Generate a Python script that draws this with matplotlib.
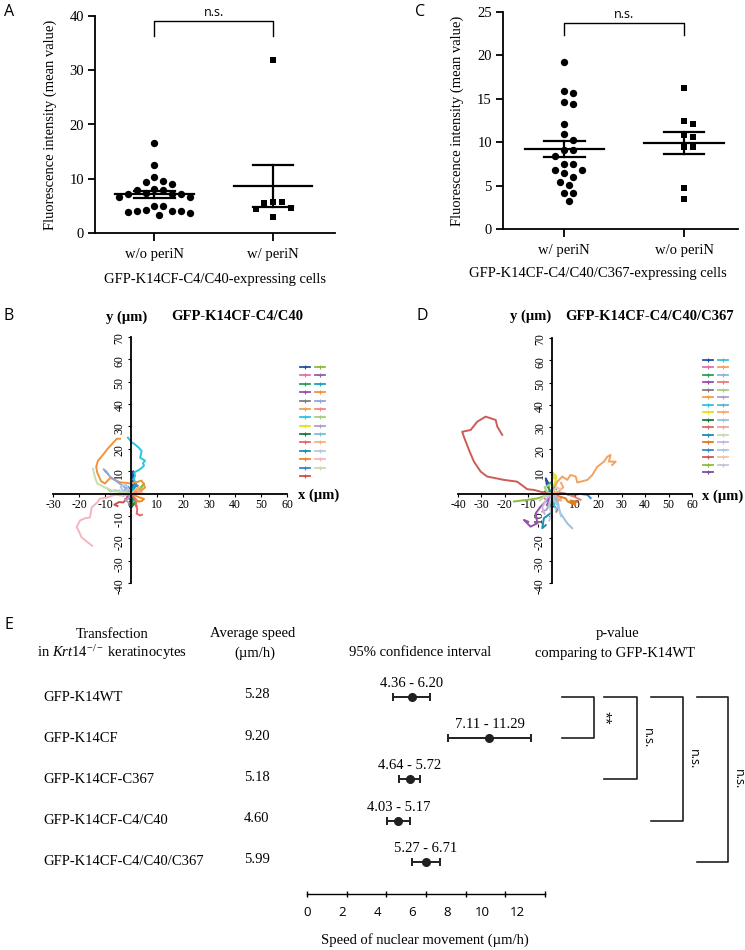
import numpy as np
import matplotlib
matplotlib.use("Agg")
import matplotlib.pyplot as plt
import matplotlib.transforms as mtransforms
from matplotlib.lines import Line2D

W, H = 745, 950
plt.rcParams['font.family'] = 'Liberation Serif'
plt.rcParams['mathtext.fontset'] = 'custom'
plt.rcParams['mathtext.rm'] = 'Liberation Serif'
plt.rcParams['mathtext.it'] = 'Liberation Serif:italic'
plt.rcParams['axes.unicode_minus'] = False
SANS = 'Open Sans'

################################ Data #########################################

# A : intensity, GFP-K14CF-C4/C40 cells
A_groups = ['w/o periN', 'w/ periN']
A_wo = [16.6, 12.6, 10.4, 9.6, 9.1, 9.4, 7.9, 7.2, 7.4, 6.7, 7.2, 6.7, 7.2, 8.0,
        8.1, 5.0, 4.3, 4.0, 3.8, 3.4, 3.6, 4.0, 4.0, 4.9]
A_w = [31.8, 4.6, 5.8, 5.8, 5.5, 4.4, 2.9]

# C : intensity, GFP-K14CF-C4/C40/C367 cells
C_groups = ['w/ periN', 'w/o periN']
C_w = [19.25, 15.7, 15.9, 14.4, 14.6, 12.1, 10.2, 10.9, 9.1, 9.1, 8.4, 7.5, 7.5,
       6.8, 6.8, 6.4, 6.0, 5.4, 5.1, 4.1, 4.1, 3.2]
C_wo = [16.2, 12.5, 12.1, 10.8, 10.6, 9.5, 9.5, 4.7, 3.5]

# B : nuclear tracks GFP-K14CF-C4/C40 (um)
B_colors = ['#2b4ea2', '#e86fae', '#2ca05a', '#9a4fb0', '#7f7f7f', '#f5a04a', '#2cc4e0',
            '#e5e020', '#1f7a3a', '#e8676b', '#1b8fb0', '#f28a1e', '#3a86c8', '#c9524a',
            '#8dbb3e', '#8e63a8', '#1ea3b8', '#f0943c', '#8fa8dc', '#ee8a8a', '#a5cf86',
            '#b09fcc', '#7fbcd8', '#f7b27f', '#b8c8e0', '#f4b6be', '#c6ddb0']
B_tx = [[0, 0.6, 0.3, 1.0, 0.4, 0.9, 0.5],
        [0, -0.8, -1.8, -1.2, -2.2],
        [0, 0.8, 1.8, 1.4, 2.2],
        [0, -0.9, -1.6, -0.8, -1.4],
        [0, 0.9, 0.4, 1.4, 0.8],
        [0, 1.6, 2.8, 3.9, 3.2],
        [0, 1.2, 1.9, 1.0, 1.6, 1.2, 2.7, 4.2, 5.0, 4.6, 5.4, 4.3, 3.5, 4.1, 3.0, 1.5, 0.2, -1.2],
        [0, 0.6, 1.2, 0.8],
        [0, 0.5, 0.2, 1.0],
        [0, 1.0, 2.2, 1.8, 2.4, 2.2, 3.5, 4.2],
        [0, 1.0, 1.5, 2.6, 1.4, 0.9, 1.8],
        [0, 1.8, 3.4, 5.0, 4.2, 3.0, 2.0],
        [0, -1.0, -2.1, -1.2, 0.2],
        [0, -1.4, -3.0, -4.6, -6.4, -5.2],
        [0, 1.8, 3.8, 5.0, 4.2],
        [0, -0.5, -1.1, -0.4],
        [0, 0.5, 1.1, 2.0, 2.6],
        [0, 3.0, 5.4, 4.8, 4.0, 2.0, -0.4, -2.0, -4.2, -6.0, -8.0, -10.0, -11.5, -13.0,
         -13.4, -12.7, -11.0, -9.0, -7.0, -5.5, -4.2],
        [0, -2.3, -5.0, -8.0, -10.0, -9.0, -10.5],
        [0, 2.0, 3.0, 4.0],
        [0, -2.0, -4.0, -6.0, -8.0, -9.0],
        [0, -1.0, -2.0, -1.0],
        [0, -2.0, -3.0, -2.0, -3.0],
        [0, 2.0, 3.0, 2.5, 4.0],
        [0, -3.0, -4.0, -2.0, -1.0, -3.0, -4.5],
        [0, -3.0, -6.0, -9.4, -12.0, -13.0, -15.1, -15.8, -17.5, -19.6, -20.9, -20.0, -19.0,
         -17.0, -15.0],
        [0, -3.0, -6.5, -10.0, -13.0, -13.8, -14.6]]
B_ty = [[0, 2.5, 4.5, 6.5, 8.5, 10, 7],
        [0, -0.8, -0.3, -1.8, -2.4],
        [0, -1.5, -3.0, -4.5, -5.6],
        [0, 0.8, 0.2, -0.9, -1.6],
        [0, -0.8, -1.9, -2.4, -3.2],
        [0, 0.9, 1.8, 1.0, 0.2],
        [0, 2.0, 4.5, 6.5, 8.0, 9.4, 10.3, 11.5, 12.5, 13.5, 14.7, 15.5, 16.0, 19.0, 20.5, 22.0, 23.0, 25.0],
        [0, 0.5, 0.2, -0.4],
        [0, -2.0, -4.0, -5.0],
        [0, -1.5, -3.0, -5.0, -7.0, -9.0, -9.8, -9.5],
        [0, 2.0, 4.0, 3.5, 3.0, 5.0, 4.2],
        [0, -1.0, -1.8, -2.4, -3.3, -3.6, -3.0],
        [0, 1.0, 2.0, 3.1, 1.5],
        [0, -2.0, -4.0, -3.8, -5.0, -5.6],
        [0, 1.0, 2.5, 4.5, 3.2],
        [0, -1.0, -2.0, -2.6],
        [0, 1.0, 3.0, 4.0, 3.1],
        [0, 0.5, 2.7, 4.5, 5.8, 5.0, 4.5, 4.8, 5.0, 6.0, 7.0, 4.5, 5.5, 9.4, 12.0, 14.7,
         17.0, 20.0, 22.5, 24.5, 24.5],
        [0, 2.7, 5.0, 7.5, 10.3, 9.0, 10.8],
        [0, 1.0, 0.0, 1.0],
        [0, 1.0, 0.5, 1.5, 1.0, 2.2],
        [0, -2.0, -3.0, -4.0],
        [0, 2.0, 1.0, 0.0, -1.0],
        [0, 2.0, 3.0, 1.0, 0.5],
        [0, 1.0, 3.0, 4.0, 2.0, 0.0, 1.5],
        [0, -1.0, -0.5, -1.8, -2.3, -4.0, -6.2, -10.7, -11.0, -12.0, -15.0, -17.0, -19.6,
         -21.5, -23.3],
        [0, 0.5, 1.0, 2.7, 4.5, 7.0, 11.0]]

# D : nuclear tracks GFP-K14CF-C4/C40/C367 (um)
D_colors = ['#2b4ea2', '#e86fae', '#2ca05a', '#9a4fb0', '#7f7f7f', '#f5a04a', '#2cc4e0',
            '#e5e020', '#1f7a3a', '#e8676b', '#1b8fb0', '#e07b20', '#3a86c8', '#cd5c55',
            '#8dbb3e', '#7a4fa0', '#3cc0d8', '#f4a25e', '#8fb6e0', '#ee7a7a', '#a5cf86',
            '#b09fcc', '#5fb8d0', '#f7a86f', '#9ec0d8', '#f4a4a4', '#c6ddb0', '#c8b8dc',
            '#a8cce8', '#f7c49f', '#c0c8d8']
D_tx = [[0, -1.0, -2.0, -2.5, -1.5],
        [0, -1.0, -2.0, -3.0],
        [0, -1.0, -1.5, -0.5],
        [0, -1.8, -4.7, -6.8, -6.1, -9.0, -11.8, -10.0],
        [0, 1.0, 0.0, 1.0],
        [0, 2.0, 3.0, 4.0],
        [0, 1.0, 0.5, 1.5],
        [0, 0.5, 1.5, 2.0, 0.5, 1.0],
        [0, -1.0, -2.0, -3.0],
        [0, 2.0, 3.0, 2.0],
        [0, 0.3, -0.4, -3.3, -4.0, -2.5],
        [0, 3.0, 6.0, 7.0, 9.0, 11.0, 8.0, 10.0],
        [0, 4.0, 8.5, 12.0, 15.3, 16.7],
        [0, -3.0, -7.6, -10.4, -14.7, -20.4, -27.5, -30.3, -33.2, -35.3, -37.5, -38.2,
         -34.6, -31.8, -28.2, -23.9, -23.2, -21.1],
        [0, -3.0, -6.0, -10.4, -13.0, -16.1],
        [0, -1.0, -2.0],
        [0, 1.0, 2.0, 1.5],
        [0, 2.4, 4.6, 6.7, 8.1, 10.3, 11.0, 15.3, 17.4, 19.5, 22.4, 23.8, 25.2, 24.5, 27.4, 25.9],
        [0, 2.0, 3.0, 2.0],
        [0, 5.3, 9.5, 12.4],
        [0, -2.0, -3.0, -1.0],
        [0, -1.0, -2.0, -4.0],
        [0, 1.0, 2.0],
        [0, 3.0, 5.0, 4.0],
        [0, 2.4, 3.8, 6.7, 8.8],
        [0, 2.0, 4.0],
        [0, -3.0, -5.0],
        [0, -2.0, -4.0, -3.0],
        [0, 1.0, 3.0, 4.0],
        [0, 2.0, 4.0],
        [0, -1.0, 0.0, -1.0]]
D_ty = [[0, 2.0, 4.0, 7.0, 5.0],
        [0, -2.0, -3.0, -2.0],
        [0, 2.0, 4.0, 5.0],
        [0, -2.7, -5.7, -8.7, -13.2, -14.7, -11.7, -12.5],
        [0, -2.0, -4.0, -5.0],
        [0, -1.0, -3.0, -2.0],
        [0, -2.0, -4.0, -6.0],
        [0, 3.0, 5.0, 8.0, 9.5, 7.0],
        [0, 1.0, 0.0, 1.0],
        [0, -3.0, -6.0, -8.0],
        [0, -2.7, -8.7, -10.9, -15.4, -14.0],
        [0, -1.0, -2.0, -3.5, -4.5, -3.5, -3.0, -5.0],
        [0, 0.5, -0.6, 0.0, -0.4, -1.9],
        [0, 0.5, 1.8, 2.1, 5.5, 6.3, 7.8, 10.0, 14.5, 19.7, 25.7, 27.9, 28.7, 32.4, 34.7,
         33.2, 30.2, 26.5],
        [0, -1.0, -2.0, -2.7, -3.0, -3.4],
        [0, -3.0, -5.0],
        [0, 1.0, 0.0, -1.0],
        [0, 5.5, 7.8, 6.3, 8.5, 7.8, 5.1, 6.3, 8.5, 12.2, 14.5, 16.7, 17.5, 14.5, 14.5, 13.0],
        [0, -2.0, -5.0, -7.0],
        [0, 0.3, -1.2, -2.7],
        [0, 1.0, 3.0, 4.0],
        [0, -4.0, -7.0, -8.0],
        [0, 3.0, 2.0],
        [0, 1.0, 3.0, 5.0],
        [0, -4.2, -8.7, -13.2, -15.4],
        [0, -1.0, -3.0],
        [0, -1.0, -3.0],
        [0, -2.0, -6.0, -9.0],
        [0, -3.0, -6.0, -10.0],
        [0, 3.0, 2.0],
        [0, -5.0, -9.0, -12.0]]

# E : speed of nuclear movement
E_names = ['GFP-K14WT', 'GFP-K14CF', 'GFP-K14CF-C367', 'GFP-K14CF-C4/C40',
           'GFP-K14CF-C4/C40/C367']
E_speed = [5.28, 9.20, 5.18, 4.60, 5.99]
E_lo = [4.36, 7.11, 4.64, 4.03, 5.27]
E_hi = [6.20, 11.29, 5.72, 5.17, 6.71]
E_cmp_rows = [1, 2, 3, 4]
E_cmp_labels = ['**', 'n.s.', 'n.s.', 'n.s.']
E_ticks = [0, 2, 4, 6, 8, 10, 12]

################################ Figure #######################################

fig = plt.figure(figsize=(W / 100, H / 100), dpi=100)
# pixel coords, origin top-left
PX = mtransforms.Affine2D().scale(1 / W, -1 / H).translate(0, 1) + fig.transFigure


def box(l, t, r, b):
    return [l / W, 1 - b / H, (r - l) / W, (b - t) / H]


def ftext(x, y, s, **kw):
    kw.setdefault('ha', 'center')
    kw.setdefault('va', 'center')
    fig.text(x, y, s, transform=PX, **kw)


def swarm(vals, ypx, d):
    # simple beeswarm, offsets in pixels
    order = np.argsort(vals)[::-1]
    placed = []
    offs = np.zeros(len(vals))
    cands = [0.0]
    for j in range(1, 30):
        cands += [j * d / 2, -j * d / 2]
    for i in order:
        y = vals[i] * ypx
        for c in cands:
            if all((c - px) ** 2 + (y - py) ** 2 >= d * d for px, py in placed):
                break
        placed.append((c, y))
        offs[i] = c
    return offs


def dot_panel(ax, groups, data, markers, ymax, ystep, ypx, xpx):
    for i, (vals, m) in enumerate(zip(data, markers)):
        vals = np.array(vals)
        off = swarm(vals, ypx, 8.8) / xpx
        ax.scatter(i + off, vals, marker=m, s=28 if m == 'o' else 24, color='black',
                   lw=0, zorder=3, clip_on=False)
        mean = vals.mean()
        sem = vals.std(ddof=1) / np.sqrt(len(vals))
        ax.plot([i - 0.33, i + 0.33], [mean, mean], color='black', lw=1.6, zorder=4)
        for v in (mean - sem, mean + sem):
            ax.plot([i - 0.17, i + 0.17], [v, v], color='black', lw=1.6, zorder=4)
        ax.plot([i, i], [mean - sem, mean + sem], color='black', lw=1.6, zorder=4)
    ax.set_ylim(0, ymax)
    ax.set_yticks(np.arange(0, ymax + 1, ystep))
    ax.set_xticks(range(len(groups)))
    ax.set_xticklabels(groups)
    for s in ['top', 'right']:
        ax.spines[s].set_visible(False)
    for s in ['left', 'bottom']:
        ax.spines[s].set_linewidth(1.3)
    ax.tick_params(labelsize=10.5, width=1.3, length=5, pad=3)
    ax.tick_params(axis='x', pad=5, length=6)
    ax.patch.set_alpha(0)


def bracket(ax, y_top, y_bot, label):
    ax.plot([0, 0, 1, 1], [y_bot, y_top, y_top, y_bot], color='black', lw=1.0, clip_on=False)
    ax.text(0.5, y_top * 1.01, label, ha='center', va='bottom', family=SANS, fontsize=9)


def track_panel(ax, tx, ty, colors, xlim):
    for x, y, c in zip(tx, ty, colors):
        ax.plot(x, y, color=c, lw=1.4, solid_joinstyle='round')
    ax.set_xlim(*xlim)
    ax.set_ylim(-40, 70)
    for s in ['top', 'right']:
        ax.spines[s].set_visible(False)
    ax.spines['left'].set_position(('data', 0))
    ax.spines['bottom'].set_position(('data', 0))
    for s in ['left', 'bottom']:
        ax.spines[s].set_linewidth(1.3)
    ax.set_xticks(np.arange(xlim[0], xlim[1] + 1, 10))
    ax.set_yticks([-40, -30, -20, -10, 10, 20, 30, 40, 50, 60, 70])
    ax.tick_params(labelsize=8.5, length=2, width=0.8, pad=2)
    ax.tick_params(axis='y', labelrotation=90)
    ax.patch.set_alpha(0)


def key(colors, x0, y0, dy, nrows):
    for i, c in enumerate(colors):
        col, row = divmod(i, nrows)
        x = x0 + col * 15
        y = y0 + row * dy
        fig.add_artist(Line2D([x, x + 5, x + 10], [y, y, y], transform=PX, color=c, lw=1.3,
                              marker='+', ms=3, mew=0.8, markevery=[1]))


# ---- A
axA = fig.add_axes(box(95, 16, 335, 233))
dot_panel(axA, A_groups, [A_wo, A_w], ['o', 's'], 40, 10, 217 / 40, 119)
axA.set_xlim(-0.5, 1.52)
bracket(axA, 39.0, 36.4, 'n.s.')
ftext(50, 125, 'Fluorescence intensity (mean value)', rotation=90, fontsize=10.5)
ftext(215, 279, 'GFP-K14CF-C4/C40-expressing cells', fontsize=10.5)

# ---- C
axC = fig.add_axes(box(503, 12, 738, 229))
dot_panel(axC, C_groups, [C_w, C_wo], ['o', 's'], 25, 5, 217 / 25, 120)
axC.set_xlim(-0.51, 1.45)
bracket(axC, 23.7, 22.3, 'n.s.')
ftext(457, 121, 'Fluorescence intensity (mean value)', rotation=90, fontsize=10.5)
ftext(598, 274, 'GFP-K14CF-C4/C40/C367-expressing cells', fontsize=10.5)

# ---- B
axB = fig.add_axes(box(53, 337, 287, 583))
track_panel(axB, B_tx, B_ty, B_colors, (-30, 60))
ftext(127, 317, 'y (µm)', fontweight='bold', fontsize=10.5)
ftext(237, 317, 'GFP-K14CF-C4/C40', fontweight='bold', fontsize=10.5)
ftext(298, 495, 'x (µm)', fontweight='bold', fontsize=10.5, ha='left')
key(B_colors, 300, 367, 8.38, 14)

# ---- D
axD = fig.add_axes(box(458, 338, 692, 583))
track_panel(axD, D_tx, D_ty, D_colors, (-40, 60))
ftext(531, 316, 'y (µm)', fontweight='bold', fontsize=10.5)
ftext(650, 316, 'GFP-K14CF-C4/C40/C367', fontweight='bold', fontsize=10.5)
ftext(702, 496, 'x (µm)', fontweight='bold', fontsize=10.5, ha='left')
key(D_colors, 703, 360, 7.47, 16)

# ---- E
axE = fig.add_axes(box(307, 656, 545, 894))
rows = np.arange(len(E_names))
sp = np.array(E_speed)
axE.errorbar(sp, rows, xerr=[sp - np.array(E_lo), np.array(E_hi) - sp], fmt='o',
             color='#231f20', ms=5.5, capsize=2.6, elinewidth=1.4, capthick=1.4)
axE.set_xlim(0, 12)
axE.set_ylim(4.776, -0.994)
for s in ['top', 'right', 'left']:
    axE.spines[s].set_visible(False)
axE.spines['bottom'].set_linewidth(1.0)
axE.set_yticks([])
axE.set_xticks(E_ticks)
axE.set_xticklabels([])
axE.tick_params(axis='x', direction='inout', length=5, width=1.0)
axE.patch.set_alpha(0)
# tick numbers sit on a slightly compressed scale in the source figure
xblend = mtransforms.blended_transform_factory(axE.transData, PX)
for t in E_ticks:
    axE.text(t * 0.885, 913, str(t), transform=xblend, ha='center', va='center',
             family=SANS, fontsize=9.5)
for r, s, lo, hi in zip(rows, E_speed, E_lo, E_hi):
    axE.text(s, r - 0.33, f'{lo:.2f} - {hi:.2f}', ha='center', va='center', fontsize=10.5)

yblend = mtransforms.blended_transform_factory(PX, axE.transData)
for r, name, s in zip(rows, E_names, E_speed):
    axE.text(43, r, name, transform=yblend, ha='left', va='center', fontsize=10.5)
    axE.text(257, r - 0.05, f'{s:.2f}', transform=yblend, ha='center', va='center', fontsize=10.5)

br_x = [(562, 594), (604, 637), (651, 683), (697, 728)]
for (xl, xr), r, lab in zip(br_x, E_cmp_rows, E_cmp_labels):
    axE.add_line(Line2D([xl, xr, xr, xl], [0, 0, r, r], transform=yblend, color='#231f20',
                        lw=1.2, clip_on=False))
    axE.text(xr + 4, r / 2, lab, transform=yblend, rotation=270, ha='left', va='center',
             family=SANS, fontsize=9)

ftext(112, 634, 'Transfection', fontsize=10.5)
ftext(112, 653, r'in $\mathit{Krt14}^{-/-}$ keratinocytes', fontsize=10.5)
ftext(253, 634, 'Average speed', fontsize=10.5)
ftext(255, 653, '(µm/h)', fontsize=10.5)
ftext(420, 652, '95% confidence interval', fontsize=10.5)
ftext(618, 634, 'p-value', fontsize=10.5)
ftext(615, 653, 'comparing to GFP-K14WT', fontsize=10.5)
ftext(425, 940, 'Speed of nuclear movement (µm/h)', fontsize=10.5)

# panel letters
for lab, x, y in [('A', 9, 12), ('B', 9, 316), ('C', 420, 12), ('D', 422, 316), ('E', 9, 625)]:
    ftext(x, y, lab, family=SANS, fontsize=11.5)

fig.savefig('out.png', dpi=100)
